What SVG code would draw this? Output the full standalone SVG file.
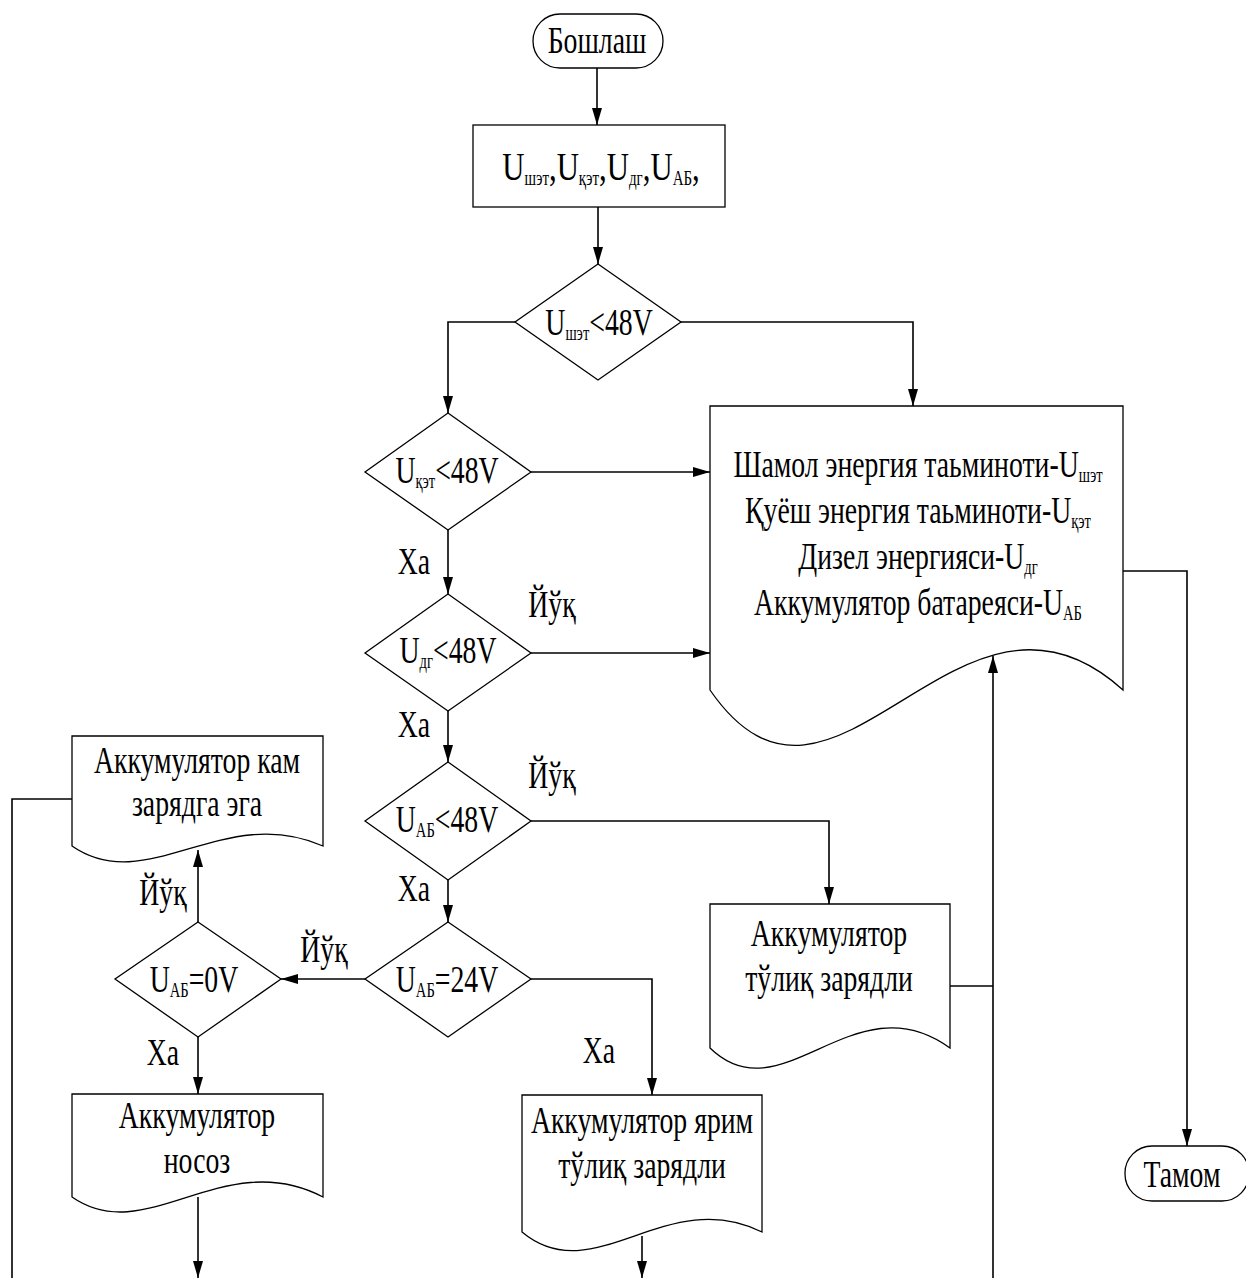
<svg xmlns="http://www.w3.org/2000/svg" width="1246" height="1278" viewBox="0 0 1246 1278" font-family="'Liberation Serif', 'Times New Roman', 'DejaVu Serif', serif">
<style>
.s{fill:#fff;stroke:#000;stroke-width:1.3}
.c{fill:none;stroke:#000;stroke-width:1.6}
text{font-family:"Liberation Serif","Times New Roman","DejaVu Serif",serif;font-size:38px;fill:#000;text-anchor:middle}
.sub{font-size:20px}
</style>
<defs>
<marker id="a" markerWidth="18" markerHeight="10" refX="17" refY="5" orient="auto" markerUnits="userSpaceOnUse"><path d="M0,0 L17,5 L0,10 z" fill="#000"/></marker>
</defs>
<rect width="1246" height="1278" fill="#fff"/>
<g id="connectors">
<path class="c" d="M597,68 V125" marker-end="url(#a)"/>
<path class="c" d="M598,207 V264" marker-end="url(#a)"/>
<path class="c" d="M515,322 H448 V413" marker-end="url(#a)"/>
<path class="c" d="M681,322 H913 V406" marker-end="url(#a)"/>
<path class="c" d="M531,472 H710" marker-end="url(#a)"/>
<path class="c" d="M448,530 V594" marker-end="url(#a)"/>
<path class="c" d="M531,653 H710" marker-end="url(#a)"/>
<path class="c" d="M448,711 V762" marker-end="url(#a)"/>
<path class="c" d="M531,821 H829 V904" marker-end="url(#a)"/>
<path class="c" d="M448,880 V922" marker-end="url(#a)"/>
<path class="c" d="M365,979 H281" marker-end="url(#a)"/>
<path class="c" d="M198,922 V850" marker-end="url(#a)"/>
<path class="c" d="M198,1037 V1094" marker-end="url(#a)"/>
<path class="c" d="M198,1197 V1278" marker-end="url(#a)"/>
<path class="c" d="M531,979 H652 V1095" marker-end="url(#a)"/>
<path class="c" d="M642,1236 V1278" marker-end="url(#a)"/>
<path class="c" d="M72,799 H12 V1278"/>
<path class="c" d="M993,1278 V656" marker-end="url(#a)"/>
<path class="c" d="M950,986 H993"/>
<path class="c" d="M1123,571 H1187 V1146" marker-end="url(#a)"/>
</g>
<g id="start">
<rect class="s" x="533" y="14" width="130" height="54" rx="27"/>
<text transform="translate(597,53) scale(0.73,1)">Бошлаш</text>
</g>
<g id="input">
<rect class="s" x="473" y="125" width="252" height="82"/>
<text transform="translate(601,180) scale(0.75,1)" style="font-size:41px">U<tspan class="sub" dy="5">шэт</tspan><tspan dy="-5">,U</tspan><tspan class="sub" dy="5">қэт</tspan><tspan dy="-5">,U</tspan><tspan class="sub" dy="5">дг</tspan><tspan dy="-5">,U</tspan><tspan class="sub" dy="5">АБ</tspan><tspan dy="-5">,</tspan></text>
</g>
<g id="d1">
<polygon class="s" points="598,264 681,322 598,380 515,322"/>
<text transform="translate(599,335) scale(0.73,1)">U<tspan class="sub" dy="5">шэт</tspan><tspan dy="-5">&lt;48V</tspan></text>
</g>
<g id="d2">
<polygon class="s" points="448,413 531,472 448,530 365,472"/>
<text transform="translate(447,483) scale(0.73,1)">U<tspan class="sub" dy="5">қэт</tspan><tspan dy="-5">&lt;48V</tspan></text>
</g>
<g id="d3">
<polygon class="s" points="448,594 531,653 448,711 365,653"/>
<text transform="translate(448,663) scale(0.73,1)">U<tspan class="sub" dy="5">дг</tspan><tspan dy="-5">&lt;48V</tspan></text>
</g>
<g id="d4">
<polygon class="s" points="448,762 531,821 448,880 365,821"/>
<text transform="translate(447,832) scale(0.73,1)">U<tspan class="sub" dy="5">АБ</tspan><tspan dy="-5">&lt;48V</tspan></text>
</g>
<g id="d5">
<polygon class="s" points="198,922 281,979 198,1037 115,979"/>
<text transform="translate(194,992) scale(0.73,1)">U<tspan class="sub" dy="5">АБ</tspan><tspan dy="-5">=0V</tspan></text>
</g>
<g id="d6">
<polygon class="s" points="448,922 531,979 448,1037 365,979"/>
<text transform="translate(447,992) scale(0.73,1)">U<tspan class="sub" dy="5">АБ</tspan><tspan dy="-5">=24V</tspan></text>
</g>
<g id="main-doc">
<path class="s" d="M710,406 V690 C834,870 958,540 1123,690 V406 Z"/>
<text transform="translate(918,477) scale(0.73,1)">Шамол энергия таьминоти-U<tspan class="sub" dy="5">шэт</tspan></text>
<text transform="translate(918,523) scale(0.73,1)">Қуёш энергия таьминоти-U<tspan class="sub" dy="5">қэт</tspan></text>
<text transform="translate(918,569) scale(0.73,1)">Дизел энергияси-U<tspan class="sub" dy="5">дг</tspan></text>
<text transform="translate(918,615) scale(0.73,1)">Аккумулятор батареяси-U<tspan class="sub" dy="5">АБ</tspan></text>
</g>
<g id="doc-low">
<path class="s" d="M72,736 V846 C147,898 223,802 323,846 V736 Z"/>
<text transform="translate(197,773) scale(0.73,1)">Аккумулятор кам</text>
<text transform="translate(197,816) scale(0.73,1)">зарядга эга</text>
</g>
<g id="doc-fault">
<path class="s" d="M72,1094 V1197 C147,1249 223,1145 323,1197 V1094 Z"/>
<text transform="translate(197,1128) scale(0.73,1)">Аккумулятор</text>
<text transform="translate(197,1173) scale(0.73,1)">носоз</text>
</g>
<g id="doc-half">
<path class="s" d="M522,1095 V1232 C594,1292 666,1184 762,1232 V1095 Z"/>
<text transform="translate(642,1133) scale(0.73,1)">Аккумулятор ярим</text>
<text transform="translate(642,1178) scale(0.73,1)">тўлиқ зарядли</text>
</g>
<g id="doc-full">
<path class="s" d="M710,904 V1048 C782,1118 854,978 950,1048 V904 Z"/>
<text transform="translate(829,946) scale(0.73,1)">Аккумулятор</text>
<text transform="translate(829,991) scale(0.73,1)">тўлиқ зарядли</text>
</g>
<g id="end">
<rect class="s" x="1125" y="1146" width="124" height="55" rx="27"/>
<text transform="translate(1182,1187) scale(0.73,1)">Тамом</text>
</g>
<g id="labels">
<text transform="translate(414,574) scale(0.73,1)">Ха</text>
<text transform="translate(414,737) scale(0.73,1)">Ха</text>
<text transform="translate(414,901) scale(0.73,1)">Ха</text>
<text transform="translate(163,1065) scale(0.73,1)">Ха</text>
<text transform="translate(599,1063) scale(0.73,1)">Ха</text>
<text transform="translate(552,617) scale(0.73,1)">Йўқ</text>
<text transform="translate(552,788) scale(0.73,1)">Йўқ</text>
<text transform="translate(324,962) scale(0.73,1)">Йўқ</text>
<text transform="translate(163,905) scale(0.73,1)">Йўқ</text>
</g>
</svg>
